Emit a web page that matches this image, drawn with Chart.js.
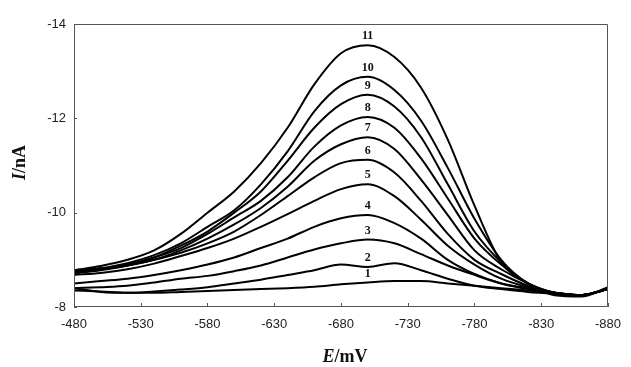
<!DOCTYPE html>
<html lang="en">
<head>
    <meta charset="UTF-8">
    <title>Voltammograms</title>
    <script src="https://cdn.jsdelivr.net/npm/chart.js"></script>
    <style>
        body { margin: 0; background: #fff; }
        #wrap { width: 631px; height: 367px; }
    </style>
</head>
<body>
    <div id="wrap"><canvas id="vChart" width="631" height="367"></canvas></div>
    <script>
        // potential (mV), shared by all curves
        const potential = [-480, -500, -520, -540, -560, -580, -600, -620, -640, -660, -680,
                           -700, -720, -740, -760, -780, -800, -820, -840, -860, -880];

        // current (nA) for curves 1..11
        const curve1  = [-8.40, -8.32, -8.30, -8.30, -8.32, -8.34, -8.36, -8.38, -8.40, -8.43, -8.48, -8.52, -8.55, -8.55, -8.50, -8.45, -8.40, -8.35, -8.30, -8.25, -8.38];
        const curve2  = [-8.35, -8.33, -8.30, -8.33, -8.37, -8.42, -8.50, -8.58, -8.68, -8.78, -8.90, -8.85, -8.93, -8.78, -8.60, -8.45, -8.38, -8.32, -8.28, -8.25, -8.38];
        const curve3  = [-8.40, -8.42, -8.45, -8.52, -8.60, -8.66, -8.76, -8.88, -9.05, -9.22, -9.35, -9.43, -9.35, -9.12, -8.88, -8.68, -8.50, -8.38, -8.30, -8.25, -8.38];
        const curve4  = [-8.50, -8.55, -8.60, -8.68, -8.78, -8.90, -9.05, -9.25, -9.45, -9.70, -9.88, -9.95, -9.78, -9.45, -9.00, -8.70, -8.50, -8.40, -8.30, -8.25, -8.38];
        const curve5  = [-8.68, -8.72, -8.80, -8.92, -9.08, -9.25, -9.45, -9.70, -9.97, -10.25, -10.50, -10.60, -10.35, -9.85, -9.30, -8.90, -8.60, -8.42, -8.30, -8.25, -8.38];
        const curve6  = [-8.78, -8.82, -8.88, -9.00, -9.15, -9.35, -9.60, -9.95, -10.35, -10.75, -11.05, -11.12, -10.85, -10.25, -9.55, -9.00, -8.70, -8.45, -8.30, -8.25, -8.38];
        const curve7  = [-8.75, -8.80, -8.88, -9.00, -9.20, -9.45, -9.75, -10.10, -10.55, -11.10, -11.45, -11.60, -11.35, -10.70, -9.95, -9.20, -8.80, -8.50, -8.30, -8.25, -8.38];
        const curve8  = [-8.72, -8.78, -8.88, -9.05, -9.25, -9.55, -9.90, -10.25, -10.75, -11.40, -11.85, -12.03, -11.80, -11.15, -10.30, -9.45, -8.90, -8.50, -8.30, -8.25, -8.38];
        const curve9  = [-8.72, -8.80, -8.90, -9.05, -9.30, -9.60, -10.00, -10.45, -11.10, -11.80, -12.30, -12.50, -12.25, -11.60, -10.60, -9.60, -8.95, -8.50, -8.28, -8.25, -8.38];
        const curve10 = [-8.75, -8.82, -8.93, -9.10, -9.35, -9.70, -10.05, -10.60, -11.30, -12.15, -12.70, -12.88, -12.60, -11.95, -10.95, -9.87, -9.00, -8.50, -8.28, -8.25, -8.40];
        const curve11 = [-8.78, -8.87, -9.00, -9.20, -9.55, -10.00, -10.45, -11.05, -11.80, -12.72, -13.38, -13.55, -13.30, -12.65, -11.55, -10.15, -8.95, -8.50, -8.25, -8.22, -8.42];

        const curves = [curve1, curve2, curve3, curve4, curve5, curve6, curve7, curve8, curve9, curve10, curve11];
        const curveNames = ['1', '2', '3', '4', '5', '6', '7', '8', '9', '10', '11'];
        const xTicks = [-480, -530, -580, -630, -680, -730, -780, -830, -880];
        const yTicks = [-14, -12, -10, -8];
        const labelAt = -700;

        // frame, inner tick marks, curve numbers and axis titles
        const decorations = {
            id: 'decorations',
            afterDraw(chart) {
                const ctx = chart.ctx;
                const a = chart.chartArea;
                const xs = chart.scales.x, ys = chart.scales.y;
                ctx.save();
                ctx.strokeStyle = '#555';
                ctx.lineWidth = 1;
                ctx.beginPath();
                ctx.rect(a.left + 0.5, a.top + 0.5, a.right - a.left - 1, a.bottom - a.top - 1);
                ctx.stroke();
                ctx.beginPath();
                xTicks.forEach(v => {
                    const px = Math.round(xs.getPixelForValue(v)) + 0.5;
                    ctx.moveTo(px, a.bottom);
                    ctx.lineTo(px, a.bottom - 4);
                });
                yTicks.forEach(v => {
                    const py = Math.round(ys.getPixelForValue(v)) + 0.5;
                    ctx.moveTo(a.left, py);
                    ctx.lineTo(a.left + 3, py);
                });
                ctx.stroke();

                ctx.fillStyle = '#111';
                ctx.font = 'bold 12px "Liberation Serif"';
                ctx.textAlign = 'center';
                ctx.textBaseline = 'bottom';
                const idx = potential.indexOf(labelAt);
                curves.forEach((c, i) => {
                    ctx.fillText(curveNames[i], xs.getPixelForValue(labelAt), ys.getPixelForValue(c[idx]) - 3);
                });

                // x title: E/mV
                ctx.textBaseline = 'middle';
                ctx.textAlign = 'left';
                const f1 = 'italic bold 18px "Liberation Serif"';
                const f2 = 'bold 18px "Liberation Serif"';
                ctx.font = f1; const wE = ctx.measureText('E').width;
                ctx.font = f2; const wU = ctx.measureText('/mV').width;
                let x0 = (a.left + a.right) / 2 - (wE + wU) / 2 + 4;
                ctx.font = f1; ctx.fillText('E', x0, 357);
                ctx.font = f2; ctx.fillText('/mV', x0 + wE, 357);

                // y title: I/nA
                ctx.translate(20, (a.top + a.bottom) / 2 - 3);
                ctx.rotate(-Math.PI / 2);
                ctx.font = f1; const wI = ctx.measureText('I').width;
                ctx.font = f2; const wN = ctx.measureText('/nA').width;
                x0 = -(wI + wN) / 2;
                ctx.font = f1; ctx.fillText('I', x0, 0);
                ctx.font = f2; ctx.fillText('/nA', x0 + wI, 0);
                ctx.restore();
            }
        };

        const ctx = document.getElementById('vChart').getContext('2d');
        new Chart(ctx, {
            type: 'line',
            data: {
                labels: potential,
                datasets: curves.map((c, i) => ({
                    label: curveNames[i],
                    data: c.map((v, j) => ({ x: potential[j], y: v })),
                    borderColor: '#000',
                    borderWidth: 2,
                    pointRadius: 0,
                    cubicInterpolationMode: 'monotone',
                    fill: false
                }))
            },
            options: {
                responsive: false,
                animation: false,
                layout: { padding: { left: 0, top: 24, right: 17, bottom: 0 } },
                plugins: { legend: { display: false }, tooltip: { enabled: false } },
                scales: {
                    x: {
                        type: 'linear',
                        min: -880, max: -480, reverse: true,
                        grid: { display: false, drawTicks: false },
                        border: { display: false },
                        afterFit: s => { s.height = 60; },
                        afterBuildTicks: s => { s.ticks = xTicks.map(v => ({ value: v })); },
                        ticks: {
                            padding: 10,
                            color: '#222',
                            font: { family: '"Liberation Sans"', size: 13 }
                        }
                    },
                    y: {
                        min: -14, max: -8, reverse: true,
                        grid: { display: false, drawTicks: false },
                        border: { display: false },
                        afterFit: s => { s.width = 74; },
                        afterBuildTicks: s => { s.ticks = yTicks.map(v => ({ value: v })); },
                        ticks: {
                            padding: 8,
                            color: '#222',
                            font: { family: '"Liberation Sans"', size: 13 }
                        }
                    }
                }
            },
            plugins: [decorations]
        });
    </script>
</body>
</html>
